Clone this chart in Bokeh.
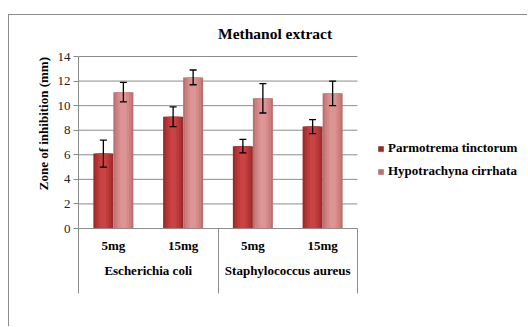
from bokeh.plotting import figure
from bokeh.models import (Range1d, FixedTicker, Whisker, TeeHead, ColumnDataSource,
                          Legend, LegendItem, LinearAxis, Label)
from bokeh.embed import file_html
from bokeh.resources import INLINE

# ---- data ----
bacteria = ["Escherichia coli", "Staphylococcus aureus"]
doses = ["5mg", "15mg"]
series_names = ["Parmotrema tinctorum", "Hypotrachyna cirrhata"]
parmotrema = [6.1, 9.1, 6.7, 8.3]
parmotrema_err = [1.1, 0.8, 0.55, 0.57]
hypotrachyna = [11.1, 12.3, 10.6, 11.0]
hypotrachyna_err = [0.8, 0.6, 1.2, 1.0]
y_ticks = [0, 2, 4, 6, 8, 10, 12, 14]
title_text = "Methanol extract"
y_label = "Zone of inhibition  (mm)"

FONT = "Liberation Serif"
GRID = "#8c8c8c"

# ---- layout geometry (pixels) ----
W, H = 519, 312
LEFT, RIGHT, TOP, BOTTOM = 69, 0, 0, 99
CAT_PX = 279          # width of the category block
AXIS_PX = 172         # height of the 0..14 value axis
SEP_PX = 65           # length of the block separators below the axis

n_groups = len(bacteria)
n_sub = len(doses)
n_cat = n_groups * n_sub
y_max = y_ticks[-1]

x_end = n_cat * (W - LEFT - RIGHT) / CAT_PX
y_end = y_max * (H - TOP - BOTTOM) / AXIS_PX

cat_x = [i + 0.5 for i in range(n_cat)]
cat_labels = [d for b in bacteria for d in doses]
group_x = [g * n_sub + n_sub / 2 for g in range(n_groups)]
edge_x = [g * n_sub for g in range(n_groups + 1)]

bw = 0.287
src = ColumnDataSource(dict(
    xp=[x - bw / 2 for x in cat_x],
    xh=[x + bw / 2 for x in cat_x],
    p=parmotrema,
    p_up=[v + e for v, e in zip(parmotrema, parmotrema_err)],
    p_lo=[v - e for v, e in zip(parmotrema, parmotrema_err)],
    h=hypotrachyna,
    h_up=[v + e for v, e in zip(hypotrachyna, hypotrachyna_err)],
    h_lo=[v - e for v, e in zip(hypotrachyna, hypotrachyna_err)],
))

p = figure(
    x_range=Range1d(0, x_end), y_range=Range1d(0, y_end),
    width=W, height=H,
    output_backend="svg", toolbar_location=None,
    min_border_left=LEFT, min_border_right=RIGHT, min_border_top=TOP, min_border_bottom=BOTTOM,
    background_fill_color="white", border_fill_color="white",
    margin=(14, 0, 0, 8),
    styles={"border-top": "1px solid #8c8c8c", "border-left": "1px solid #8c8c8c"},
)
p.outline_line_color = None
p.xgrid.grid_line_color = None
p.ygrid.grid_line_color = None

# horizontal grid lines over the category block
p.segment(x0=[0] * len(y_ticks), x1=[n_cat] * len(y_ticks), y0=y_ticks, y1=y_ticks,
          line_color=GRID, line_width=1)

# y axis
p.yaxis.ticker = FixedTicker(ticks=y_ticks)
p.yaxis.bounds = (0, y_max)
p.yaxis.axis_line_color = GRID
p.yaxis.major_tick_line_color = GRID
p.yaxis.major_tick_out = 5
p.yaxis.major_tick_in = 0
p.yaxis.minor_tick_line_color = None
p.yaxis.major_label_standoff = 3
p.yaxis.major_label_text_font = FONT
p.yaxis.major_label_text_font_size = "13px"
p.yaxis.major_label_text_color = "#222222"
p.yaxis.axis_label = y_label
p.yaxis.axis_label_text_font = FONT
p.yaxis.axis_label_text_font_size = "13px"
p.yaxis.axis_label_text_font_style = "bold"
p.yaxis.axis_label_text_color = "black"
p.yaxis.axis_label_standoff = 4

# x axis: dose labels (major ticks) and block separators (long minor ticks)
xa = p.xaxis[0]
xa.ticker = FixedTicker(ticks=cat_x, minor_ticks=edge_x)
xa.major_label_overrides = {x: lab for x, lab in zip(cat_x, cat_labels)}
xa.bounds = (0, n_cat)
xa.axis_line_color = GRID
xa.major_tick_line_color = None
xa.major_tick_out = 0
xa.major_tick_in = 0
xa.minor_tick_line_color = GRID
xa.minor_tick_line_width = 1
xa.minor_tick_in = 0
xa.minor_tick_out = SEP_PX
xa.major_label_standoff = 9 - SEP_PX   # labels sit 9px below the axis line
xa.major_label_text_font = FONT
xa.major_label_text_font_size = "13px"
xa.major_label_text_font_style = "bold"
xa.major_label_text_color = "black"

# x axis: organism (group) labels, stacked below the dose labels
ga = LinearAxis(ticker=FixedTicker(ticks=group_x),
                major_label_overrides={x: lab for x, lab in zip(group_x, bacteria)},
                bounds=(0, n_cat), axis_line_color=None,
                major_tick_line_color=None, major_tick_out=0, major_tick_in=0,
                minor_tick_line_color=None, minor_tick_out=0, minor_tick_in=0,
                major_label_standoff=7,
                major_label_text_font=FONT, major_label_text_font_size="13px",
                major_label_text_font_style="bold", major_label_text_color="black")
p.add_layout(ga, "below")

# bars (layered to imitate the shaded look)
dark_layers = [("#9c2a2a", 1.0), ("#b03333", 0.8), ("#bf3b3b", 0.55), ("#c84444", 0.3)]
light_layers = [("#b97070", 1.0), ("#cc7f7f", 0.8), ("#d68a8a", 0.55), ("#dc9595", 0.3)]
r_dark = None
r_light = None
for col, f in dark_layers:
    r = p.vbar(x="xp", top="p", width=bw * f, source=src, fill_color=col, line_color=None)
    if r_dark is None:
        r_dark = r
for col, f in light_layers:
    r = p.vbar(x="xh", top="h", width=bw * f, source=src, fill_color=col, line_color=None)
    if r_light is None:
        r_light = r

# error bars
for base, up, lo in [("xp", "p_up", "p_lo"), ("xh", "h_up", "h_lo")]:
    p.add_layout(Whisker(source=src, base=base, upper=up, lower=lo,
                         level="overlay", line_color="black", line_width=1.3,
                         upper_head=TeeHead(size=7, line_color="black", line_width=1.3),
                         lower_head=TeeHead(size=7, line_color="black", line_width=1.3)))

# title
p.add_layout(Label(x=n_cat / 2, y=15.87, text=title_text, text_align="left",
                   text_baseline="middle", text_font=FONT, text_font_size="15.5px",
                   text_font_style="bold", text_color="black"))

# legend
legend = Legend(items=[LegendItem(label=series_names[0], renderers=[r_dark]),
                       LegendItem(label=series_names[1], renderers=[r_light])],
                location=(299, 49), orientation="vertical",
                glyph_width=7, glyph_height=7, label_standoff=4, spacing=7,
                padding=0, margin=0, border_line_color=None, background_fill_alpha=0,
                label_height=14, label_text_font=FONT, label_text_font_size="13px",
                label_text_font_style="bold", label_text_color="black")
p.add_layout(legend, "center")

open("out.html", "w").write(file_html(p, INLINE))
